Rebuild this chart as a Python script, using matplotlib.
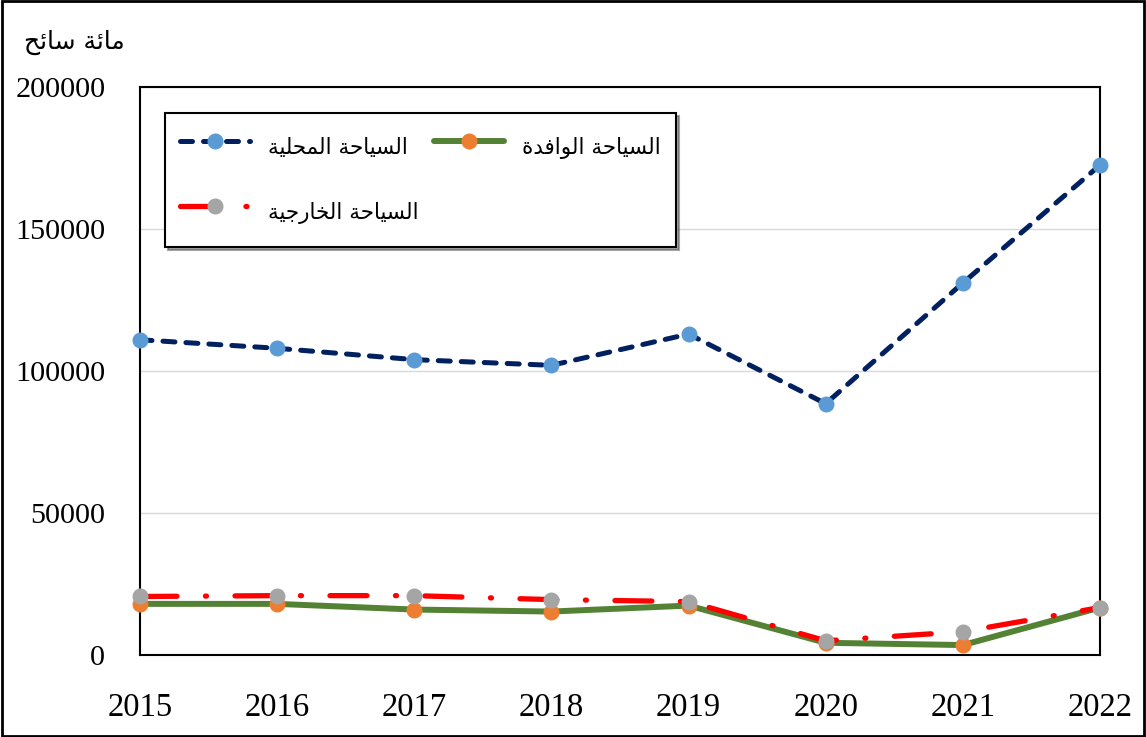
import matplotlib
matplotlib.use("Agg")
import matplotlib.pyplot as plt
from matplotlib.patches import Rectangle

years = [2015, 2016, 2017, 2018, 2019, 2020, 2021, 2022]
domestic = [111000, 108000, 104000, 102000, 113000, 88500, 131000, 172500]
inbound = [18000, 18000, 16000, 15300, 17400, 4300, 3500, 16700]
outbound = [20600, 20900, 20900, 19500, 18800, 5000, 8200, 16700]
yticks = [0, 50000, 100000, 150000, 200000]

lbl_domestic = "السياحة المحلية"
lbl_inbound = "السياحة الوافدة"
lbl_outbound = "السياحة الخارجية"
lbl_yaxis = "مائة سائح"

FORMS = {
    'ا': (0xFE8D, 0xFE8E, None, None),
    'ل': (0xFEDD, 0xFEDE, 0xFEDF, 0xFEE0),
    'س': (0xFEB1, 0xFEB2, 0xFEB3, 0xFEB4),
    'ي': (0xFEF1, 0xFEF2, 0xFEF3, 0xFEF4),
    'ح': (0xFEA1, 0xFEA2, 0xFEA3, 0xFEA4),
    'ة': (0xFE93, 0xFE94, None, None),
    'م': (0xFEE1, 0xFEE2, 0xFEE3, 0xFEE4),
    'و': (0xFEED, 0xFEEE, None, None),
    'ف': (0xFED1, 0xFED2, 0xFED3, 0xFED4),
    'د': (0xFEA9, 0xFEAA, None, None),
    'خ': (0xFEA5, 0xFEA6, 0xFEA7, 0xFEA8),
    'ر': (0xFEAD, 0xFEAE, None, None),
    'ج': (0xFE9D, 0xFE9E, 0xFE9F, 0xFEA0),
    'ئ': (0xFE89, 0xFE8A, 0xFE8B, 0xFE8C),
}


def shape(s):
    out = []
    n = len(s)
    for i, c in enumerate(s):
        if c not in FORMS:
            out.append(c)
            continue
        f = FORMS[c]
        prev_j = i > 0 and s[i - 1] in FORMS and FORMS[s[i - 1]][2] is not None
        next_j = f[2] is not None and i < n - 1 and s[i + 1] in FORMS
        if prev_j and next_j:
            code = f[3]
        elif prev_j:
            code = f[1]
        elif next_j:
            code = f[2]
        else:
            code = f[0]
        out.append(chr(code))
    return "".join(out)[::-1]


plt.rcParams['font.family'] = ['Liberation Serif', 'DejaVu Sans']

fig = plt.figure(figsize=(11.46, 7.37), dpi=100)
ax = fig.add_axes([140 / 1146, 1 - 655 / 737, 960 / 1146, 568 / 737])

ax.plot(years, domestic, color='#002060', lw=3.6, dashes=(2.4, 2.2),
        dash_capstyle='round', marker='o', ms=10.5, mfc='#5B9BD5', mec='#5B9BD5',
        clip_on=False, zorder=3, label=shape(lbl_domestic))
ax.plot(years, outbound, color='#FF0000', lw=3.8, dashes=(7, 5.4, 0.2, 5.4),
        dash_capstyle='round', marker='o', ms=10.5, mfc='#A5A5A5', mec='#A5A5A5',
        clip_on=False, zorder=4, label=shape(lbl_outbound))
ax.plot(years, inbound, color='#548235', lw=4.3, solid_capstyle='round',
        marker='o', ms=10.5, mfc='#ED7D31', mec='#ED7D31', clip_on=False,
        zorder=3, label=shape(lbl_inbound))

ax.set_xlim(2015, 2022)
ax.set_ylim(0, 200000)
ax.set_xticks(years)
ax.set_yticks(yticks)
ax.set_yticklabels([str(v) for v in yticks])
ax.tick_params(axis='both', length=0)
ax.tick_params(axis='y', pad=25, labelsize=21.7)
ax.tick_params(axis='x', pad=27, labelsize=23.5)
ax.grid(axis='y', color='#D9D9D9', lw=1)
ax.set_axisbelow(True)
for sp in ax.spines.values():
    sp.set_color('black')
    sp.set_linewidth(1.5)

fig.text(24 / 1146, 1 - 42 / 737, shape(lbl_yaxis), fontsize=18,
         family='DejaVu Sans', ha='left', va='center')

leg = ax.legend(ncol=2, loc='upper left', bbox_to_anchor=(0.026, 0.954),
                borderaxespad=0,
                prop={'family': 'DejaVu Sans', 'size': 15.5},
                frameon=True, fancybox=False, shadow=True, edgecolor='black',
                handlelength=3.25, handleheight=2.4, handletextpad=0.85,
                columnspacing=0.7, labelspacing=1.2, borderpad=0.7)
leg.get_frame().set_linewidth(1.5)

fig.patches.append(Rectangle((0.002, 0.002), 0.996, 0.996, transform=fig.transFigure,
                             fill=False, edgecolor='black', lw=2))

fig.savefig('out.png', dpi=100)
